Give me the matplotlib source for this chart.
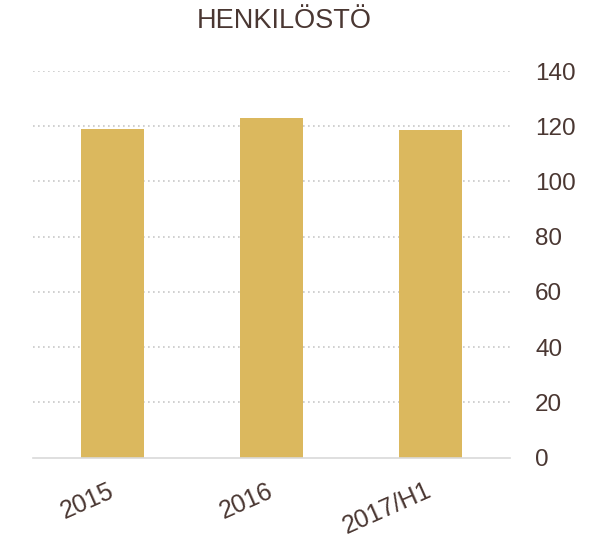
import matplotlib.pyplot as plt
import matplotlib.transforms as mtransforms

plt.rcParams['font.family'] = ['Liberation Sans', 'DejaVu Sans']

categories = ['2015', '2016', '2017/H1']
values = [118.9, 123.0, 118.5]
yticks = [0, 20, 40, 60, 80, 100, 120, 140]

text_color = '#4a3732'
bar_color = '#dbb85e'

fig = plt.figure(figsize=(5.9, 5.41), dpi=100)
ax = fig.add_axes([33 / 590, 1 - 457.5 / 541, 477 / 590, 386.5 / 541])

x = range(len(categories))
ax.bar(x, values, width=0.40, color=bar_color, zorder=2)

ax.set_xlim(-0.5, 2.5)
ax.set_ylim(0, 140)
ax.set_yticks(yticks)
ax.yaxis.tick_right()
ax.tick_params(axis='y', length=0, pad=18, labelsize=17.5, labelcolor=text_color)
ax.tick_params(axis='x', length=0, pad=13, labelsize=18, labelcolor=text_color)
ax.set_xticks(list(x))
ax.set_xticklabels(categories, rotation=24, ha='right', rotation_mode='anchor')

# nudge the rotated labels a little left and down
offset = mtransforms.ScaledTranslation(-5 / 100, -3 / 100, fig.dpi_scale_trans)
for lbl in ax.get_xticklabels():
    lbl.set_transform(lbl.get_transform() + offset)

for t in yticks[1:]:
    ax.axhline(t, color='#c8c8c8', linestyle=(0, (1, 2)), linewidth=1.2, zorder=1)

for s in ['top', 'left', 'right']:
    ax.spines[s].set_visible(False)
ax.spines['bottom'].set_color('#d9d9d9')
ax.spines['bottom'].set_linewidth(1.2)

fig.text(284 / 590, 1 - 21.5 / 541, 'HENKILÖSTÖ', ha='center', va='center',
         fontsize=19.5, color=text_color)

fig.savefig('out.png', dpi=100)
